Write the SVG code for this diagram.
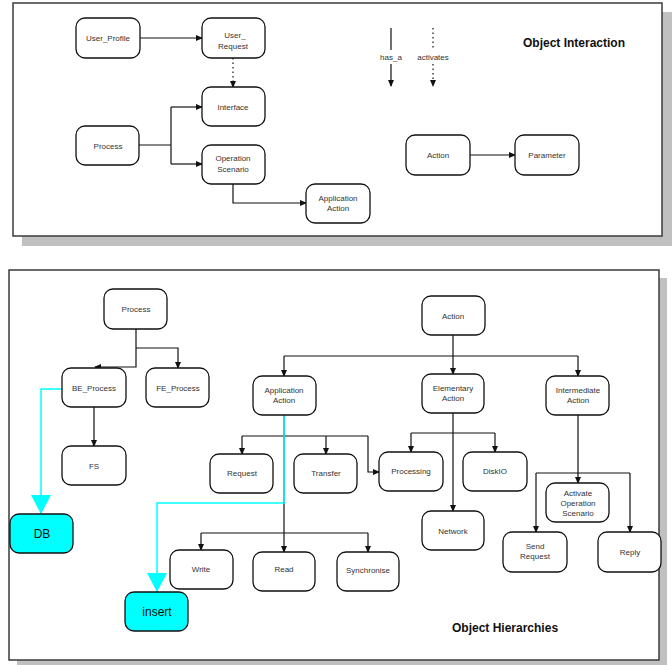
<svg xmlns="http://www.w3.org/2000/svg" width="672" height="665" viewBox="0 0 672 665">
<defs>
<marker id="ah" markerWidth="7" markerHeight="6" refX="6" refY="3" orient="auto" markerUnits="userSpaceOnUse">
<path d="M0,0 L7,3 L0,6 Z" fill="#111"/>
</marker>
<marker id="big" markerWidth="20" markerHeight="20" refX="19" refY="10" orient="auto" markerUnits="userSpaceOnUse">
<path d="M0,0 L19,10 L0,20 Z" fill="#00ffff"/>
</marker>
</defs>
<style>
.frame{fill:#fff;stroke:#3a3a3a;stroke-width:1.5}
.shadow{fill:#c0c0c0}
.n rect{fill:#fff;stroke:#111;stroke-width:1.3}
.c rect{fill:#00ffff;stroke:#111;stroke-width:1.3}
text{font-family:"Liberation Sans",Arial,sans-serif;font-size:8px;fill:#333;text-anchor:middle}
.c text{font-size:12px;fill:#111}
.title{font-size:12px;font-weight:bold;fill:#111;text-anchor:start}
.l{fill:none;stroke:#111;stroke-width:1.2}
.a{marker-end:url(#ah)}
.d{stroke-dasharray:1.5 3}
.cy{fill:none;stroke:#00ffff;stroke-width:1.5}
.cyb{marker-end:url(#big)}
</style>
<rect class="shadow" x="22" y="12" width="650" height="234"/>
<rect class="frame" x="13" y="3" width="649" height="233"/>
<rect class="shadow" x="17" y="278" width="650" height="390"/>
<rect class="frame" x="9" y="270" width="650" height="390"/>
<text class="title" x="523" y="47">Object Interaction</text>
<text class="title" x="452" y="632">Object Hierarchies</text>
<g id="connectors">
<path class="l a" d="M140,38 H202"/>
<path class="l a d" d="M233,58 V87"/>
<path class="l" d="M139,145 H171 M171,107 V164"/>
<path class="l a" d="M171,107 H202"/>
<path class="l a" d="M171,164 H202"/>
<path class="l a" d="M233,184 V203 H306"/>
<path class="l a" d="M470,155 H515"/>
<path class="l" d="M391,28 V50"/>
<path class="l a" d="M391,64 V86"/>
<path class="l d" d="M433,28 V50"/>
<path class="l a d" d="M433,64 V86"/>
<path class="l a" d="M136,329 V367 H95"/>
<path class="l a" d="M136,348 H178 V368"/>
<path class="l a" d="M94,407 V446"/>
<path class="l a" d="M453,335 V374"/>
<path class="l" d="M284,356 H578"/>
<path class="l a" d="M284,356 V376"/>
<path class="l a" d="M578,356 V376"/>
<path class="l a" d="M284,415 V552"/>
<path class="l" d="M242,436 H368"/>
<path class="l a" d="M242,436 V454"/>
<path class="l a" d="M326,436 V454"/>
<path class="l a" d="M368,436 V472 H379"/>
<path class="l" d="M201,533 H368"/>
<path class="l a" d="M201,533 V550"/>
<path class="l a" d="M368,533 V552"/>
<path class="l a" d="M453,413 V511"/>
<path class="l" d="M411,433 H495"/>
<path class="l a" d="M411,433 V452"/>
<path class="l a" d="M495,433 V452"/>
<path class="l a" d="M578,415 V483"/>
<path class="l" d="M536,473 H630"/>
<path class="l a" d="M536,473 V532"/>
<path class="l a" d="M630,473 V532"/>
<path class="cy cyb" d="M62,389 H41 V514"/>
<path class="cy cyb" d="M284,415 V503 H157 V592"/>
</g>
<text x="391" y="60">has_a</text>
<text x="433" y="60">activates</text>
<g id="user_profile" class="n"><rect x="76" y="18" width="64" height="40" rx="9"/><text x="108" y="41">User_Profile</text></g>
<g id="user_request" class="n"><rect x="202" y="18" width="63" height="40" rx="9"/><text x="235" y="38">User_</text><text x="233" y="49">Request</text></g>
<g id="interface" class="n"><rect x="202" y="87" width="63" height="39" rx="9"/><text x="233" y="110">Interface</text></g>
<g id="process_top" class="n"><rect x="76" y="126" width="63" height="39" rx="9"/><text x="108" y="149">Process</text></g>
<g id="operation_scenario" class="n"><rect x="202" y="145" width="63" height="39" rx="9"/><text x="233" y="161">Operation</text><text x="233" y="172">Scenario</text></g>
<g id="application_action_top" class="n"><rect x="306" y="184" width="64" height="39" rx="9"/><text x="338" y="201">Application</text><text x="338" y="211">Action</text></g>
<g id="action_top" class="n"><rect x="406" y="135" width="64" height="40" rx="9"/><text x="438" y="158">Action</text></g>
<g id="parameter" class="n"><rect x="515" y="135" width="64" height="40" rx="9"/><text x="547" y="158">Parameter</text></g>
<g id="process" class="n"><rect x="104" y="289" width="63" height="40" rx="9"/><text x="136" y="312">Process</text></g>
<g id="be_process" class="n"><rect x="62" y="368" width="64" height="39" rx="9"/><text x="94" y="391">BE_Process</text></g>
<g id="fe_process" class="n"><rect x="146" y="368" width="63" height="39" rx="9"/><text x="178" y="391">FE_Process</text></g>
<g id="fs" class="n"><rect x="62" y="446" width="64" height="39" rx="9"/><text x="94" y="469">FS</text></g>
<g id="db" class="c"><rect x="10" y="514" width="63" height="39" rx="9"/><text x="42" y="538">DB</text></g>
<g id="action" class="n"><rect x="422" y="296" width="63" height="39" rx="9"/><text x="453" y="319">Action</text></g>
<g id="application_action" class="n"><rect x="253" y="376" width="63" height="39" rx="9"/><text x="284" y="393">Application</text><text x="284" y="403">Action</text></g>
<g id="elementary_action" class="n"><rect x="422" y="374" width="62" height="39" rx="9"/><text x="453" y="391">Elementary</text><text x="453" y="401">Action</text></g>
<g id="intermediate_action" class="n"><rect x="546" y="376" width="63" height="39" rx="9"/><text x="578" y="393">Intermediate</text><text x="578" y="403">Action</text></g>
<g id="request" class="n"><rect x="210" y="454" width="63" height="39" rx="9"/><text x="242" y="476">Request</text></g>
<g id="transfer" class="n"><rect x="294" y="454" width="63" height="39" rx="9"/><text x="326" y="476">Transfer</text></g>
<g id="processing" class="n"><rect x="379" y="452" width="64" height="39" rx="9"/><text x="411" y="474">Processing</text></g>
<g id="diskio" class="n"><rect x="463" y="452" width="64" height="39" rx="9"/><text x="495" y="474">DiskIO</text></g>
<g id="network" class="n"><rect x="422" y="511" width="62" height="39" rx="9"/><text x="453" y="534">Network</text></g>
<g id="activate_operation_scenario" class="n"><rect x="546" y="483" width="63" height="39" rx="9"/><text x="578" y="496">Activate</text><text x="578" y="506">Operation</text><text x="578" y="516">Scenario</text></g>
<g id="send_request" class="n"><rect x="503" y="532" width="64" height="40" rx="9"/><text x="535" y="549">Send</text><text x="535" y="559">Request</text></g>
<g id="reply" class="n"><rect x="598" y="532" width="63" height="40" rx="9"/><text x="630" y="555">Reply</text></g>
<g id="write" class="n"><rect x="170" y="550" width="63" height="39" rx="9"/><text x="201" y="572">Write</text></g>
<g id="read" class="n"><rect x="253" y="552" width="62" height="39" rx="9"/><text x="284" y="572">Read</text></g>
<g id="synchronise" class="n"><rect x="337" y="552" width="62" height="39" rx="9"/><text x="368" y="573">Synchronise</text></g>
<g id="insert" class="c"><rect x="125" y="592" width="63" height="39" rx="9"/><text x="157" y="616">insert</text></g>
</svg>
